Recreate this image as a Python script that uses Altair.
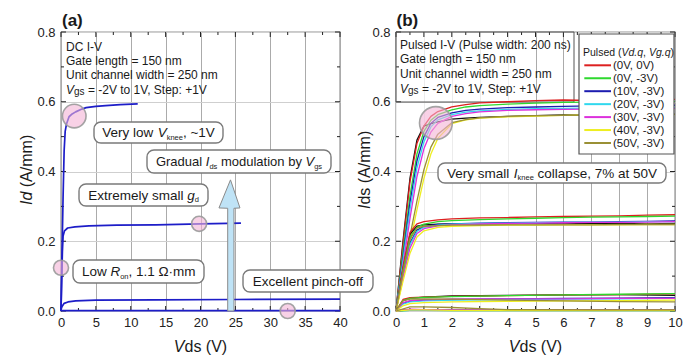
import altair as alt
import pandas as pd

FONT = "Liberation Sans"
W = 279
H = 279
YMAX = 0.8

# ---------------- Panel (a): DC I-V, Vgs = +1, 0, -1, -2 V ----------------
a_vds_p1 = [0, 0.15, 0.3, 0.45, 0.6, 0.8, 1.15, 1.6, 2.1, 3, 3.6, 5, 6.4, 8.5, 11]
a_id_p1 = [0, 0.17, 0.33, 0.46, 0.515, 0.537, 0.557, 0.565, 0.571, 0.579, 0.583, 0.587, 0.589, 0.592, 0.594]
a_vds_0 = [0, 0.1, 0.2, 0.3, 0.5, 0.95, 2, 4, 8, 13.6, 20, 25.8]
a_id_0 = [0, 0.09, 0.17, 0.215, 0.23, 0.238, 0.241, 0.244, 0.246, 0.247, 0.25, 0.252]
a_vds_m1 = [0, 0.15, 0.45, 1, 2.1, 5, 13.6, 25, 40]
a_id_m1 = [0.004, 0.013, 0.022, 0.026, 0.029, 0.031, 0.032, 0.033, 0.034]
a_vds_m2 = [0, 10, 20, 30, 40]
a_id_m2 = [0.001, 0.001, 0.001, 0.001, 0.001]

a_xticks = [0, 5, 10, 15, 20, 25, 30, 35, 40]
y_ticks = [0.0, 0.2, 0.4, 0.6, 0.8]

# highlight circles (a): Vds, Id
a_circ_x = [1.9, 19.8, 0.0, 32.5]
a_circ_y = [0.559, 0.25, 0.124, 0.0]
a_circ_r_px = [13.3, 8.5, 8.5, 8.5]

# upward arrow (a)
a_arrow_y = [0.0, 0.2945, 0.2955, 0.376]
a_arrow_l = [23.9, 23.9, 22.65, 24.3]
a_arrow_r = [24.8, 24.8, 25.66, 24.3]

# ---------------- Panel (b): pulsed I-V ----------------
b_series = ["(0V, 0V)", "(0V, -3V)", "(10V, -3V)", "(20V, -3V)", "(30V, -3V)", "(40V, -3V)", "(50V, -3V)", "DC"]
b_colors = ["#dd2020", "#2ed82e", "#1c1cb0", "#30d8ee", "#dc30dc", "#eeee20", "#9a9035", "#111111"]
b_in_legend = 7

b_g_p1 = [0, 0.25, 0.5, 0.75, 1, 1.25, 1.5, 2, 2.5, 3, 4, 5, 6, 7, 8, 9, 10]
b_vgs_p1 = {
    "(0V, 0V)":   [0, 0.19, 0.37, 0.48, 0.530, 0.558, 0.572, 0.585, 0.592, 0.597, 0.600, 0.603, 0.605, 0.604, 0.606, 0.605, 0.607],
    "(0V, -3V)":  [0, 0.17, 0.33, 0.45, 0.515, 0.547, 0.563, 0.577, 0.585, 0.589, 0.593, 0.596, 0.598, 0.599, 0.600, 0.600, 0.601],
    "(10V, -3V)": [0, 0.155, 0.31, 0.43, 0.500, 0.538, 0.555, 0.568, 0.575, 0.579, 0.583, 0.585, 0.587, 0.588, 0.589, 0.589, 0.590],
    "(20V, -3V)": [0, 0.145, 0.29, 0.41, 0.485, 0.528, 0.548, 0.563, 0.570, 0.574, 0.578, 0.580, 0.581, 0.582, 0.583, 0.583, 0.584],
    "(30V, -3V)": [0, 0.13, 0.265, 0.385, 0.465, 0.513, 0.538, 0.558, 0.566, 0.571, 0.575, 0.577, 0.578, 0.579, 0.580, 0.580, 0.581],
    "(40V, -3V)": [0, 0.095, 0.195, 0.29, 0.380, 0.450, 0.495, 0.537, 0.548, 0.553, 0.557, 0.559, 0.561, 0.562, 0.562, 0.563, 0.563],
    "(50V, -3V)": [0, 0.105, 0.215, 0.315, 0.405, 0.470, 0.507, 0.540, 0.549, 0.554, 0.558, 0.560, 0.561, 0.562, 0.563, 0.563, 0.564],
    "DC":         [0, 0.20, 0.38, 0.49, 0.530, 0.537, 0.542, 0.550, 0.553, 0.555, 0.558, 0.560, 0.562, 0.561, 0.563, 0.562, 0.564],
}
b_g_0 = [0, 0.25, 0.5, 0.75, 1, 1.5, 2, 3, 4, 5, 6, 7, 8, 9, 10]
b_vgs_0 = {
    "(0V, 0V)":   [0, 0.125, 0.225, 0.250, 0.256, 0.261, 0.264, 0.267, 0.268, 0.270, 0.271, 0.272, 0.273, 0.275, 0.276],
    "(0V, -3V)":  [0, 0.115, 0.210, 0.240, 0.249, 0.256, 0.259, 0.262, 0.264, 0.266, 0.268, 0.269, 0.270, 0.271, 0.272],
    "(10V, -3V)": [0, 0.105, 0.195, 0.232, 0.242, 0.248, 0.250, 0.252, 0.253, 0.254, 0.255, 0.255, 0.256, 0.257, 0.258],
    "(20V, -3V)": [0, 0.100, 0.190, 0.228, 0.240, 0.246, 0.249, 0.251, 0.252, 0.253, 0.254, 0.255, 0.255, 0.256, 0.256],
    "(30V, -3V)": [0, 0.095, 0.180, 0.222, 0.236, 0.244, 0.247, 0.250, 0.251, 0.252, 0.253, 0.254, 0.254, 0.255, 0.256],
    "(40V, -3V)": [0, 0.085, 0.165, 0.212, 0.230, 0.240, 0.243, 0.245, 0.246, 0.246, 0.247, 0.247, 0.247, 0.248, 0.248],
    "(50V, -3V)": [0, 0.110, 0.205, 0.238, 0.243, 0.245, 0.246, 0.246, 0.247, 0.247, 0.247, 0.247, 0.248, 0.248, 0.248],
    "DC":         [0, 0.120, 0.220, 0.243, 0.247, 0.249, 0.250, 0.250, 0.250, 0.251, 0.250, 0.251, 0.251, 0.250, 0.251],
}
b_g_m1 = [0, 0.25, 0.5, 1, 2, 4, 6, 8, 10]
b_vgs_m1 = {
    "(0V, 0V)":   [0, 0.033, 0.038, 0.040, 0.042, 0.044, 0.046, 0.047, 0.049],
    "(0V, -3V)":  [0, 0.030, 0.036, 0.039, 0.041, 0.044, 0.046, 0.048, 0.050],
    "(10V, -3V)": [0, 0.022, 0.028, 0.031, 0.033, 0.035, 0.036, 0.037, 0.038],
    "(20V, -3V)": [0, 0.020, 0.026, 0.029, 0.031, 0.033, 0.034, 0.035, 0.036],
    "(30V, -3V)": [0, 0.024, 0.030, 0.032, 0.034, 0.035, 0.035, 0.036, 0.036],
    "(40V, -3V)": [0, 0.015, 0.021, 0.024, 0.026, 0.028, 0.029, 0.030, 0.031],
    "(50V, -3V)": [0, 0.030, 0.034, 0.035, 0.034, 0.031, 0.029, 0.027, 0.026],
    "DC":         [0, 0.030, 0.036, 0.040, 0.043, 0.045, 0.046, 0.047, 0.045],
}
b_g_m2 = [0, 0.5, 1, 2, 3, 4, 7, 10]
b_vgs_m2 = {
    "(0V, 0V)":   [0, 0.003, 0.003, 0.002, 0.002, 0.002, 0.002, 0.002],
    "(0V, -3V)":  [0, 0.002, 0.002, 0.001, 0.001, 0.001, 0.001, 0.001],
    "(10V, -3V)": [0, 0.004, 0.004, 0.003, 0.003, 0.003, 0.003, 0.003],
    "(20V, -3V)": [0, 0.002, 0.002, 0.002, 0.002, 0.002, 0.002, 0.002],
    "(30V, -3V)": [0, 0.005, 0.004, 0.003, 0.003, 0.003, 0.003, 0.003],
    "(40V, -3V)": [0, 0.003, 0.003, 0.002, 0.002, 0.002, 0.002, 0.002],
    "(50V, -3V)": [0, 0.012, 0.012, 0.010, 0.007, 0.004, 0.003, 0.003],
    "DC":         [0, 0.004, 0.004, 0.003, 0.003, 0.003, 0.003, 0.003],
}
b_xticks = [0, 1, 2, 3, 4, 5, 6, 7, 8, 9, 10]

b_circ_x = [1.43]
b_circ_y = [0.539]
b_circ_r_px = [18.5]

# ---------------- text metrics (Arial / Liberation Sans advance widths) ----------------
AW = {' ': 278, '!': 278, '(': 333, ')': 333, '+': 584, ',': 278, '-': 333, '.': 278, '/': 278,
      ':': 278, '=': 584, '%': 889, '~': 584, 'A': 667, 'B': 667, 'C': 722, 'D': 722, 'E': 667, 'F': 611,
      'G': 778, 'H': 722, 'I': 278, 'J': 500, 'K': 667, 'L': 556, 'M': 833, 'N': 722, 'O': 778, 'P': 667,
      'Q': 778, 'R': 722, 'S': 667, 'T': 611, 'U': 722, 'V': 667, 'W': 944, 'X': 667, 'Y': 667, 'Z': 611,
      'a': 556, 'b': 556, 'c': 500, 'd': 556, 'e': 556, 'f': 278, 'g': 556, 'h': 556, 'i': 222, 'j': 222,
      'k': 500, 'l': 222, 'm': 833, 'n': 556, 'o': 556, 'p': 556, 'q': 556, 'r': 333, 's': 500, 't': 278,
      'u': 556, 'v': 500, 'w': 722, 'x': 500, 'y': 500, 'z': 500, 'Ω': 768, '·': 278}


def tw(s, fs):
    return sum(AW.get(c, 556) for c in s) * fs / 1000.0


def T(t, st="n", fs=13.5, d=0.0):
    return (t, st, fs, d)


def lay(pieces, x0, base, center=False):
    total = sum(tw(p[0], p[2]) for p in pieces)
    x = x0 - total / 2 if center else x0
    out = []
    for t, st, fs, d in pieces:
        lead = len(t) - len(t.lstrip(" "))
        out.append({"px": x + tw(t[:lead], fs), "py": base + d, "t": t.strip(" "), "st": st, "fs": fs, "rot": 0})
        x += tw(t, fs)
    return out


def lay_rot(pieces, xb, ybottom):
    y = ybottom
    out = []
    for t, st, fs, d in pieces:
        lead = len(t) - len(t.lstrip(" "))
        out.append({"px": xb, "py": y - tw(t[:lead], fs), "t": t.strip(" "), "st": st, "fs": fs, "rot": 1})
        y -= tw(t, fs)
    return out


SUB = 7.5
SD = 2.5


def build_panel(xmax, xticks, xgrid_color, ygrid_color, line_df, line_width, texts, boxes, circles,
                extra_layers_fn=None, frame_pad=False):
    ax_x = alt.Axis(values=xticks, grid=True, gridColor=xgrid_color, gridWidth=1, ticks=False, domain=False,
                    labelFont=FONT, labelFontSize=13, labelColor="#222", labelPadding=5, title=None,
                    format="d", labelFlush=False, labelOverlap=False)
    ax_y = alt.Axis(values=y_ticks, grid=True, gridColor=ygrid_color, gridWidth=1, ticks=False, domain=False,
                    labelFont=FONT, labelFontSize=13, labelColor="#222", labelPadding=6, title=None,
                    format=".1f", labelFlush=False, labelOverlap=False)
    xs = alt.Scale(domain=[0, xmax], nice=False, zero=False)
    ys = alt.Scale(domain=[0, YMAX], nice=False, zero=False)

    def X(f):
        return alt.X(f, type="quantitative", scale=xs, axis=ax_x)

    def Y(f):
        return alt.Y(f, type="quantitative", scale=ys, axis=ax_y)

    def cx(px):
        return px / W * xmax

    def cy(py):
        return (H - py) / H * YMAX

    layers = []
    if frame_pad:
        layers.append(alt.Chart(pd.DataFrame({"k": [0]})).mark_rect(opacity=0).encode(
            x=alt.value(-52), x2=alt.value(0), y=alt.value(-23), y2=alt.value(0)))

    # inward ticks on all four sides
    xminor = [(xticks[i] + xticks[i + 1]) / 2 for i in range(len(xticks) - 1)]
    yminor = [(y_ticks[i] + y_ticks[i + 1]) / 2 for i in range(len(y_ticks) - 1)]
    for vals, ln in [(xticks, 5), (xminor, 3)]:
        d = pd.DataFrame({"v": vals})
        layers.append(alt.Chart(d).mark_rule(color="#222", strokeWidth=1).encode(
            x=X("v"), y=alt.value(H), y2=alt.value(H - ln)))
        layers.append(alt.Chart(d).mark_rule(color="#222", strokeWidth=1).encode(
            x=X("v"), y=alt.value(0), y2=alt.value(ln)))
    for vals, ln in [(y_ticks, 5), (yminor, 3)]:
        d = pd.DataFrame({"v": vals})
        layers.append(alt.Chart(d).mark_rule(color="#222", strokeWidth=1).encode(
            y=Y("v"), x=alt.value(0), x2=alt.value(ln)))
        layers.append(alt.Chart(d).mark_rule(color="#222", strokeWidth=1).encode(
            y=Y("v"), x=alt.value(W), x2=alt.value(W - ln)))

    if extra_layers_fn is not None:
        layers += extra_layers_fn(X, Y, cx, cy, "pre")

    layers.append(alt.Chart(line_df).mark_line(strokeWidth=line_width, strokeJoin="round").encode(
        x=X("x"), y=Y("y"), detail="cid:N", color=alt.Color("c:N", scale=None), order=alt.Order("k:Q")))

    if extra_layers_fn is not None:
        layers += extra_layers_fn(X, Y, cx, cy, "post")

    # rounded annotation boxes
    if boxes:
        bd = pd.DataFrame([{"x0": cx(b[0]), "x1": cx(b[1]), "y0": cy(b[2]), "y1": cy(b[3])} for b in boxes])
        layers.append(alt.Chart(bd).mark_rect(cornerRadius=7, fill="white", stroke="#7a7a7a",
                                              strokeWidth=1.4).encode(
            x=X("x0"), x2=alt.X2("x1"), y=Y("y0"), y2=alt.Y2("y1")))

    # texts
    df = pd.DataFrame(texts)
    df["x"] = df.px / W * xmax
    df["y"] = (H - df.py) / H * YMAX
    for st, style in [("n", {}), ("i", {"fontStyle": "italic"}), ("b", {"fontWeight": "bold"})]:
        for rot in (0, 1):
            sub = df[(df.st == st) & (df.rot == rot)]
            if len(sub) == 0:
                continue
            kw = dict(align="left", baseline="alphabetic", font=FONT, color="#1a1a1a", **style)
            if rot:
                kw["angle"] = 270
            layers.append(alt.Chart(sub[["x", "y", "t", "fs"]]).mark_text(**kw).encode(
                x=X("x"), y=Y("y"), text="t:N", size=alt.Size("fs:Q", scale=None)))

    # highlight circles
    cd = pd.DataFrame({"x": circles[0], "y": circles[1], "s": [3.14159 * r * r for r in circles[2]]})
    layers.append(alt.Chart(cd).mark_circle(fill="#f3b3d5", fillOpacity=0.6, stroke="#9a9a9a",
                                            strokeWidth=1.6, strokeOpacity=0.9).encode(
        x=X("x"), y=Y("y"), size=alt.Size("s:Q", scale=None)))

    return alt.layer(*layers).properties(width=W, height=H)


# ---------- panel (a) data frames ----------
rows = []
for cid, (vx, vy) in enumerate([(a_vds_p1, a_id_p1), (a_vds_0, a_id_0), (a_vds_m1, a_id_m1), (a_vds_m2, a_id_m2)]):
    for k, (x, y) in enumerate(zip(vx, vy)):
        rows.append({"x": x, "y": y, "cid": "a%d" % cid, "c": "#1d1dc8", "k": k})
a_lines = pd.DataFrame(rows)

a_texts = []
a_texts += lay([T("(a)", "b", 17)], 1, -6)
a_texts += lay([T("DC I-V", "n", 12)], 5, 19)
a_texts += lay([T("Gate length = 150 nm", "n", 12)], 5, 33.2)
a_texts += lay([T("Unit channel width = 250 nm", "n", 12)], 5, 47.4)
a_texts += lay([T("V", "i", 12), T("gs", "n", 10, 1), T(" = -2V to 1V, Step: +1V", "n", 12)], 5, 61.6)

a_boxes = [(33, 162, 90, 111), (86, 270, 118, 141), (18, 147, 152, 174), (12, 143, 228, 251), (182, 312, 238, 260)]
a_box_text = [
    [T("Very low "), T("V", "i"), T("knee", "n", SUB, SD), T(", ~1V")],
    [T("Gradual ", "n", 13), T("I", "i", 13), T("ds", "n", SUB, SD), T(" modulation by ", "n", 13), T("V", "i", 13),
     T("gs", "n", SUB, SD)],
    [T("Extremely small "), T("g", "i"), T("d", "n", SUB, SD)],
    [T("Low "), T("R", "i"), T("on", "n", SUB, SD), T(", 1.1 Ω·mm")],
    [T("Excellent pinch-off")],
]
for b, p in zip(a_boxes, a_box_text):
    a_texts += lay(p, (b[0] + b[1]) / 2, (b[2] + b[3]) / 2 + 4.8, center=True)
a_texts += lay([T("V", "i", 16), T("ds (V)", "n", 16)], 139.5, 320, center=True)
a_texts += lay_rot([T("Id", "i", 16), T(" (A/mm)", "n", 16)], -29, 173)


def a_extra(X, Y, cx, cy, phase):
    if phase != "post":
        return []
    ad = pd.DataFrame({"ay": a_arrow_y, "l": a_arrow_l, "r": a_arrow_r})
    return [alt.Chart(ad).mark_area(orient="horizontal", fill="#bfe3f6", stroke="#8a8a8a", strokeWidth=1).encode(
        y=Y("ay"), x=X("l"), x2=alt.X2("r"))]


panel_a = build_panel(40, a_xticks, "#ababab", "#cfcfcf", a_lines, 1.7, a_texts, a_boxes,
                      (a_circ_x, a_circ_y, a_circ_r_px), a_extra, frame_pad=True)

# ---------- panel (b) data frames ----------
order = ["DC"] + b_series[:7]
rows = []
for fam, (grid, dct) in enumerate([(b_g_p1, b_vgs_p1), (b_g_0, b_vgs_0), (b_g_m1, b_vgs_m1), (b_g_m2, b_vgs_m2)]):
    for s in order:
        col = b_colors[b_series.index(s)]
        for k, (x, y) in enumerate(zip(grid, dct[s])):
            rows.append({"x": x, "y": y, "cid": "%s_%d" % (s, fam), "c": col, "k": k})
b_lines = pd.DataFrame(rows)

b_texts = []
b_texts += lay([T("(b)", "b", 17)], 0.5, -6)
b_texts += lay([T("Pulsed I-V (Pulse width: 200 ns)", "n", 12)], 4, 16.7)
b_texts += lay([T("Gate length = 150 nm", "n", 12)], 4, 31.3)
b_texts += lay([T("Unit channel width = 250 nm", "n", 12)], 4, 46.3)
b_texts += lay([T("V", "i", 12), T("gs", "n", 10, 1), T(" = -2V to 1V, Step: +1V", "n", 12)], 4, 61.3)
b_boxes = [(42, 270, 131, 151)]
b_texts += lay([T("Very small "), T("I", "i"), T("knee", "n", SUB, SD), T(" collapse, 7% at 50V")],
               156, 141 + 4.8, center=True)
b_texts += lay([T("V", "i", 16), T("ds (V)", "n", 16)], 139.5, 320, center=True)
b_texts += lay_rot([T("I", "i", 16), T("ds (A/mm)", "n", 16)], -26, 177)

# legend (drawn by hand)
LEG = (183, 278, 2, 122)
b_texts += lay([T("Pulsed (", "n", 10.5), T("Vd.q", "i", 10.5), T(", ", "n", 10.5), T("Vg.q", "i", 10.5),
                T(")", "n", 10.5)], 187, 24)
leg_rows_y = [33.3 + 12.95 * i for i in range(b_in_legend)]
for i in range(b_in_legend):
    b_texts += lay([T(b_series[i], "n", 11.5)], 217, leg_rows_y[i] + 4.1)


def b_extra(X, Y, cx, cy, phase):
    out = []
    if phase == "pre":
        ib = pd.DataFrame({"x0": [cx(0)], "x1": [cx(178)], "y0": [cy(0)], "y1": [cy(70)]})
        out.append(alt.Chart(ib).mark_rect(fillOpacity=0, stroke="#555555", strokeWidth=1).encode(
            x=X("x0"), x2=alt.X2("x1"), y=Y("y0"), y2=alt.Y2("y1")))
    else:
        lb = pd.DataFrame({"x0": [cx(LEG[0])], "x1": [cx(LEG[1])], "y0": [cy(LEG[2])], "y1": [cy(LEG[3])]})
        out.append(alt.Chart(lb).mark_rect(fill="white", stroke="#555555", strokeWidth=1.2).encode(
            x=X("x0"), x2=alt.X2("x1"), y=Y("y0"), y2=alt.Y2("y1")))
        ld = pd.DataFrame({"lx0": [cx(188.3)] * b_in_legend, "lx1": [cx(215)] * b_in_legend,
                           "ly": [cy(v) for v in leg_rows_y], "c": b_colors[:b_in_legend]})
        out.append(alt.Chart(ld).mark_rule(strokeWidth=2).encode(
            x=X("lx0"), x2=alt.X2("lx1"), y=Y("ly"), color=alt.Color("c:N", scale=None)))
    return out


b_xgrid = {"condition": {"test": "datum.value >= 5", "value": "#ababab"}, "value": "#ececec"}
panel_b = build_panel(10, b_xticks, b_xgrid, "#d2d2d2", b_lines, 1.3, b_texts, b_boxes,
                      (b_circ_x, b_circ_y, b_circ_r_px), b_extra)

chart = alt.hconcat(panel_a, panel_b, spacing=56, bounds="flush").properties(
    padding=0).configure_view(stroke="#2a2a2a", strokeWidth=1.2)

chart.save("out.html", embed_options={"renderer": "svg", "actions": False})
